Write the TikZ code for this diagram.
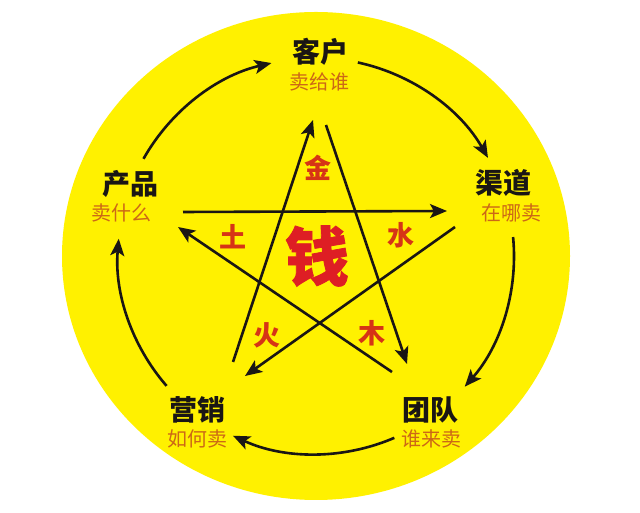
\documentclass[tikz,border=0pt]{standalone}
\usepackage{fontspec}
\newfontfamily\cjk{Noto Sans CJK SC}
\usetikzlibrary{arrows.meta}
\definecolor{bgyellow}{RGB}{255,241,0}
\definecolor{subor}{RGB}{204,104,22}
\definecolor{elred}{RGB}{214,52,22}
\definecolor{qianred}{RGB}{222,30,36}
\definecolor{inkblack}{RGB}{26,22,20}
\begin{document}
\begin{tikzpicture}[x=1pt,y=1pt,
  title/.style={inner sep=0pt, text=inkblack, font=\cjk\bfseries\fontsize{28}{30}\selectfont},
  sub/.style={inner sep=0pt, text=subor, font=\cjk\fontsize{20}{22}\selectfont},
  elem/.style={inner sep=0pt, text=elred, font=\cjk\bfseries\fontsize{27}{29}\selectfont},
  cyc/.style={draw=inkblack, line width=2.6pt, -{Stealth[length=17pt,width=14pt,inset=4pt]}},
  starline/.style={draw=inkblack, line width=2.6pt, -{Stealth[length=17pt,width=14pt,inset=4pt]}}
]
\useasboundingbox (0,0) rectangle (640,513);
\fill[white] (0,0) rectangle (640,513);
\coordinate (O) at (316,257);
\fill[bgyellow] (O) ellipse[x radius=254, y radius=244];

% outer labels
\node[title] (kehu) at (320,461) {客户};
\node[sub] (kehus) at (319,431) {卖给谁};
\node[title] (qudao) at (503,330) {渠道};
\node[sub] (qudaos) at (511,300) {在哪卖};
\node[title] (tuandui) at (430,103) {团队};
\node[sub] (tuanduis) at (431,74) {谁来卖};
\node[title] (yingxiao) at (197,103) {营销};
\node[sub] (yingxiaos) at (197,74) {如何卖};
\node[title] (chanpin) at (130,329) {产品};
\node[sub] (chanpins) at (121,300) {卖什么};

% cycle arcs
\coordinate (a1) at ([shift={(O)}]150.6:198pt);
\coordinate (a2) at ([shift={(O)}]77.8:198pt);
\coordinate (a3) at ([shift={(O)}]5.5:198pt);
\coordinate (a4) at ([shift={(O)}]-66.7:198pt);
\coordinate (a5) at ([shift={(O)}]-139:198pt);
\draw[cyc] (a1) arc[start angle=150.6, end angle=103, radius=198pt];
\draw[cyc] (a2) arc[start angle=77.8, end angle=29.7, radius=198pt];
\draw[cyc] (a3) arc[start angle=5.5, end angle=-41.3, radius=198pt];
\draw[cyc] (a4) arc[start angle=-66.7, end angle=-114.8, radius=198pt];
\draw[cyc] (a5) arc[start angle=-139, end angle=-185, radius=198pt];

% star
\coordinate (sA1) at (233,151); \coordinate (sA2) at (313,393);
\coordinate (sB1) at (326,388); \coordinate (sB2) at (407,149);
\coordinate (sC1) at (183,301); \coordinate (sC2) at (447,302);
\coordinate (sD1) at (455,286); \coordinate (sD2) at (245,137);
\coordinate (sE1) at (392,141); \coordinate (sE2) at (178,286);
\draw[starline] (sA1) -- (sA2);
\draw[starline] (sB1) -- (sB2);
\draw[starline] (sC1) -- (sC2);
\draw[starline] (sD1) -- (sD2);
\draw[starline] (sE1) -- (sE2);

% elements
\node[elem] (jin) at (318,345) {金};
\node[elem] (tu) at (233,276) {土};
\node[elem] (shui) at (401,278) {水};
\node[elem] (huo) at (267,178) {火};
\node[elem] (mu) at (372,180) {木};
\node[inner sep=0pt, text=qianred, font=\cjk\bfseries\addfontfeature{FakeBold=1.2}\fontsize{64}{66}\selectfont] (qian) at (317,257) {钱};
\end{tikzpicture}
\end{document}
